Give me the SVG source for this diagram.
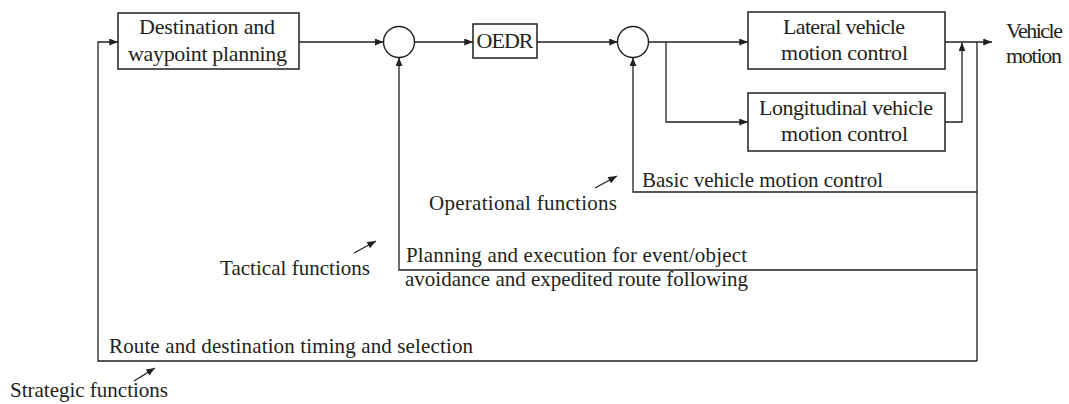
<svg xmlns="http://www.w3.org/2000/svg" width="1069" height="404" viewBox="0 0 1069 404">
<style>
.box{fill:#fff;stroke:#231f20;stroke-width:1.5}
.sum{fill:#fff;stroke:#231f20;stroke-width:1.4}
.ln{fill:none;stroke:#231f20;stroke-width:1.3}
text{fill:#231f20}
.t{font-size:22px}
.lb{font-size:21px}
.c{text-anchor:middle}
</style>
<defs>
<marker id="ah" viewBox="0 0 10 8" refX="10" refY="4" markerWidth="9" markerHeight="7" markerUnits="userSpaceOnUse" orient="auto">
<path d="M0,0 L10,4 L0,8 z" fill="#231f20"/>
</marker>
</defs>
<rect width="1069" height="404" fill="#fff"/>
<g id="connectors">
<path class="ln" d="M299,42 H383.5" marker-end="url(#ah)"/>
<path class="ln" d="M414.5,42 H473" marker-end="url(#ah)"/>
<path class="ln" d="M537,42 H618" marker-end="url(#ah)"/>
<path class="ln" d="M648.5,42 H748" marker-end="url(#ah)"/>
<path class="ln" d="M666,42 V122 H748" marker-end="url(#ah)"/>
<path class="ln" d="M945,122 H962 V42.5" marker-end="url(#ah)"/>
<path class="ln" d="M945,42 H992" marker-end="url(#ah)"/>
<path class="ln" d="M977,42 V361"/>
<path class="ln" d="M977,192 H633 V57.5" marker-end="url(#ah)"/>
<path class="ln" d="M977,270 H399 V57.5" marker-end="url(#ah)"/>
<path class="ln" d="M977,361 H98 V42 H118" marker-end="url(#ah)"/>
<path class="ln" d="M595,188 L617,176" marker-end="url(#ah)"/>
<path class="ln" d="M354,253 L376,241" marker-end="url(#ah)"/>
<path class="ln" d="M134,381 L155,368" marker-end="url(#ah)"/>
</g>
<g font-family="'Liberation Serif', 'DejaVu Serif', serif">
<g id="destination">
<rect class="box" x="118" y="13" width="181" height="56"/>
<text class="t c" x="207" y="34" textLength="136">Destination and</text>
<text class="t c" x="207.5" y="61" textLength="159">waypoint planning</text>
</g>
<g id="sum1"><circle class="sum" cx="399" cy="42" r="15.5"/></g>
<g id="oedr">
<rect class="box" x="473" y="24" width="64" height="34"/>
<text class="t c" x="505" y="48" textLength="57">OEDR</text>
</g>
<g id="sum2"><circle class="sum" cx="633" cy="42" r="15.5"/></g>
<g id="lateral">
<rect class="box" x="748" y="12" width="197" height="57"/>
<text class="t c" x="844" y="34" textLength="122">Lateral vehicle</text>
<text class="t c" x="844.5" y="60" textLength="127">motion control</text>
</g>
<g id="longitudinal">
<rect class="box" x="748" y="93" width="197" height="58"/>
<text class="t c" x="846" y="115" textLength="174">Longitudinal vehicle</text>
<text class="t c" x="844.5" y="141" textLength="127">motion control</text>
</g>
<g id="output">
<text class="t" x="1006" y="38" textLength="57">Vehicle</text>
<text class="t" x="1006" y="63" textLength="56">motion</text>
</g>
<g id="labels">
<text class="lb" x="642" y="187" textLength="241">Basic vehicle motion control</text>
<text class="lb" x="429" y="210" textLength="188">Operational functions</text>
<text class="lb" x="406" y="262" textLength="341">Planning and execution for event/object</text>
<text class="lb" x="405" y="286" textLength="343">avoidance and expedited route following</text>
<text class="lb" x="220" y="275" textLength="150">Tactical functions</text>
<text class="lb" x="109" y="353" textLength="364">Route and destination timing and selection</text>
<text class="lb" x="10" y="397" textLength="158">Strategic functions</text>
</g>
</g>
</svg>
